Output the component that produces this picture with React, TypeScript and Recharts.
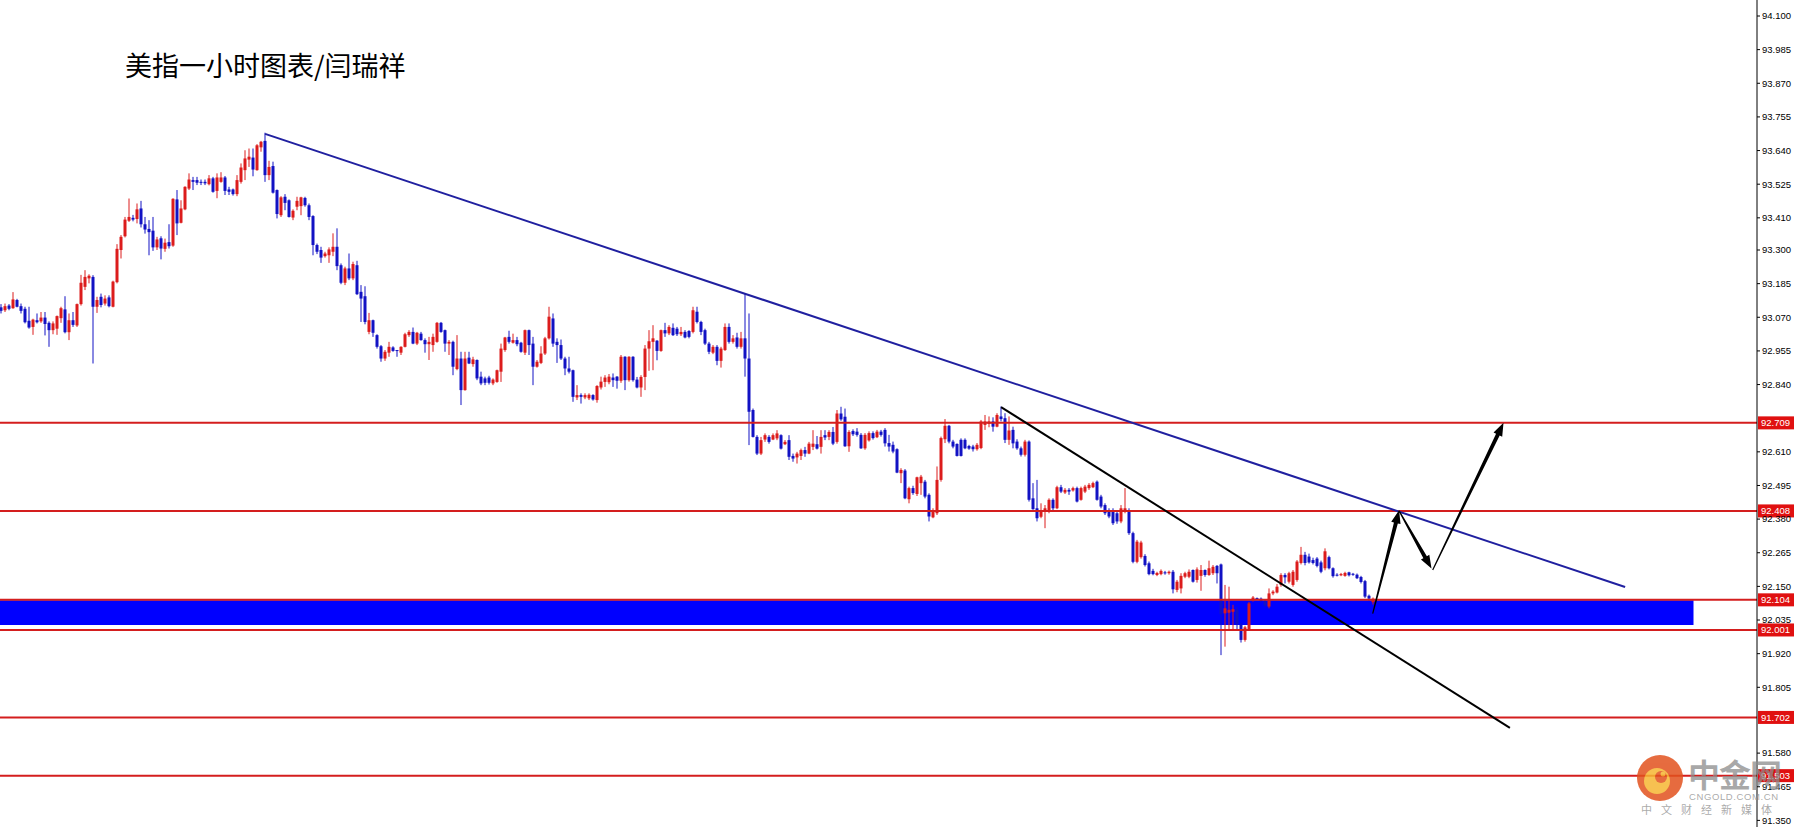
import React from 'react'
import { ComposedChart, Bar, XAxis, YAxis, ReferenceLine, ReferenceArea } from 'recharts'

// each candle: [open, high, low, close]
type Candle = [number, number, number, number]

const openingBars: Candle[] = [
  [93.104, 93.115, 93.083, 93.092], [93.094, 93.117, 93.088, 93.108], [93.110, 93.115, 93.094, 93.099],
  [93.101, 93.156, 93.099, 93.131], [93.129, 93.133, 93.104, 93.106], [93.108, 93.117, 93.083, 93.092],
  [93.099, 93.106, 93.049, 93.053], [93.058, 93.106, 93.031, 93.035], [93.037, 93.065, 93.010, 93.062],
  [93.060, 93.083, 93.049, 93.053], [93.056, 93.088, 93.051, 93.069], [93.069, 93.088, 93.008, 93.047],
  [93.051, 93.056, 92.969, 93.026], [93.026, 93.056, 93.012, 93.049], [93.031, 93.076, 93.010, 93.074],
  [93.067, 93.106, 93.051, 93.101], [93.097, 93.142, 93.015, 93.019], [93.019, 93.083, 92.992, 93.060],
  [93.060, 93.088, 93.037, 93.044], [93.042, 93.117, 93.037, 93.115], [93.115, 93.215, 93.110, 93.188],
]

const rallyBars: Candle[] = [
  [93.174, 93.231, 93.163, 93.208], [93.203, 93.217, 93.186, 93.212], [93.208, 93.214, 92.912, 93.106],
  [93.106, 93.140, 93.085, 93.129], [93.140, 93.151, 93.104, 93.112], [93.117, 93.145, 93.110, 93.134],
  [93.138, 93.145, 93.104, 93.108], [93.106, 93.195, 93.104, 93.192], [93.190, 93.320, 93.186, 93.304],
  [93.300, 93.351, 93.271, 93.345], [93.347, 93.413, 93.343, 93.404], [93.400, 93.476, 93.396, 93.413],
  [93.410, 93.420, 93.398, 93.404], [93.406, 93.459, 93.391, 93.439], [93.442, 93.468, 93.377, 93.388],
  [93.388, 93.413, 93.356, 93.370], [93.372, 93.402, 93.282, 93.361], [93.366, 93.413, 93.297, 93.309],
  [93.309, 93.345, 93.300, 93.336], [93.340, 93.347, 93.268, 93.305], [93.304, 93.339, 93.294, 93.325],
  [93.327, 93.388, 93.305, 93.313], [93.315, 93.477, 93.311, 93.475], [93.473, 93.505, 93.351, 93.391],
  [93.393, 93.470, 93.391, 93.442], [93.439, 93.518, 93.436, 93.516], [93.510, 93.562, 93.505, 93.541],
  [93.539, 93.550, 93.505, 93.533], [93.539, 93.550, 93.522, 93.530], [93.533, 93.541, 93.522, 93.530],
  [93.533, 93.541, 93.522, 93.528], [93.525, 93.556, 93.521, 93.545], [93.545, 93.550, 93.496, 93.499],
  [93.502, 93.562, 93.477, 93.548], [93.533, 93.566, 93.530, 93.548], [93.548, 93.553, 93.488, 93.502],
  [93.507, 93.516, 93.488, 93.499], [93.507, 93.510, 93.486, 93.491], [93.491, 93.556, 93.484, 93.539],
  [93.533, 93.596, 93.527, 93.582], [93.573, 93.641, 93.539, 93.613], [93.609, 93.647, 93.584, 93.619],
  [93.616, 93.647, 93.552, 93.575], [93.573, 93.662, 93.571, 93.658], [93.651, 93.673, 93.636, 93.670],
  [93.673, 93.701, 93.533, 93.556], [93.556, 93.605, 93.539, 93.584], [93.587, 93.602, 93.493, 93.496],
  [93.505, 93.507, 93.408, 93.423], [93.419, 93.484, 93.413, 93.480], [93.482, 93.491, 93.436, 93.461],
  [93.470, 93.473, 93.411, 93.413], [93.411, 93.439, 93.402, 93.434], [93.448, 93.482, 93.436, 93.468],
]

const slideBars: Candle[] = [
  [93.450, 93.482, 93.419, 93.480], [93.478, 93.482, 93.448, 93.453], [93.453, 93.459, 93.402, 93.413],
  [93.416, 93.419, 93.282, 93.317], [93.317, 93.322, 93.286, 93.294], [93.300, 93.311, 93.256, 93.274],
  [93.279, 93.294, 93.274, 93.288], [93.282, 93.309, 93.256, 93.302], [93.294, 93.357, 93.279, 93.311],
  [93.311, 93.374, 93.231, 93.245], [93.248, 93.254, 93.183, 93.188], [93.188, 93.243, 93.180, 93.237],
  [93.237, 93.288, 93.197, 93.203], [93.203, 93.260, 93.197, 93.252], [93.248, 93.263, 93.146, 93.149],
  [93.157, 93.180, 93.054, 93.134], [93.142, 93.176, 93.046, 93.054], [93.020, 93.085, 93.012, 93.060],
  [93.060, 93.062, 93.003, 93.017], [93.009, 93.012, 92.963, 92.969], [92.971, 92.975, 92.918, 92.929],
  [92.929, 92.958, 92.921, 92.952], [92.949, 92.986, 92.935, 92.969], [92.967, 92.971, 92.952, 92.955],
  [92.958, 92.958, 92.935, 92.955], [92.949, 92.971, 92.941, 92.969], [92.969, 93.017, 92.967, 93.012],
  [93.009, 93.026, 93.003, 93.020], [93.020, 93.035, 92.978, 92.980], [92.980, 93.020, 92.975, 93.017],
  [93.014, 93.020, 92.990, 92.992], [92.992, 92.998, 92.949, 92.978], [92.978, 93.003, 92.924, 92.986],
  [92.975, 93.014, 92.952, 93.003], [92.986, 93.054, 92.983, 93.051], [93.051, 93.054, 93.017, 93.020],
  [93.026, 93.028, 92.952, 92.980], [92.980, 92.992, 92.941, 92.986], [92.986, 92.990, 92.872, 92.901],
  [92.893, 93.009, 92.889, 92.929], [92.929, 92.952, 92.770, 92.821], [92.821, 92.952, 92.819, 92.929],
  [92.932, 92.952, 92.910, 92.912], [92.910, 92.935, 92.901, 92.926], [92.924, 92.926, 92.855, 92.861],
  [92.867, 92.884, 92.838, 92.844], [92.861, 92.867, 92.838, 92.846], [92.864, 92.870, 92.840, 92.846],
  [92.844, 92.861, 92.838, 92.857], [92.849, 92.891, 92.846, 92.889], [92.884, 92.980, 92.849, 92.963],
  [92.958, 93.003, 92.952, 93.001], [93.003, 93.024, 92.980, 92.986], [92.983, 93.014, 92.980, 92.992],
  [92.992, 93.003, 92.971, 92.978], [92.983, 92.986, 92.949, 92.952], [92.949, 93.028, 92.941, 93.026],
  [93.026, 93.028, 92.941, 92.975], [92.980, 93.003, 92.838, 92.901], [92.901, 92.924, 92.898, 92.918],
  [92.914, 92.971, 92.910, 92.946], [92.946, 93.003, 92.941, 92.998], [92.998, 93.106, 92.994, 93.072],
  [93.066, 93.083, 92.969, 92.980], [92.986, 92.998, 92.914, 92.975], [92.975, 92.994, 92.924, 92.929],
  [92.929, 92.935, 92.872, 92.895], [92.895, 92.935, 92.878, 92.884], [92.889, 92.891, 92.781, 92.798],
  [92.796, 92.838, 92.787, 92.804],
]

const baseBars: Candle[] = [
  [92.804, 92.810, 92.775, 92.798], [92.796, 92.810, 92.790, 92.804], [92.793, 92.810, 92.787, 92.805],
  [92.804, 92.807, 92.785, 92.789], [92.787, 92.838, 92.778, 92.835], [92.830, 92.867, 92.823, 92.850],
  [92.849, 92.872, 92.832, 92.864], [92.848, 92.876, 92.841, 92.867], [92.864, 92.878, 92.832, 92.855],
  [92.867, 92.869, 92.826, 92.853], [92.853, 92.941, 92.846, 92.935], [92.935, 92.937, 92.821, 92.855],
  [92.855, 92.937, 92.850, 92.935], [92.935, 92.937, 92.850, 92.855], [92.857, 92.866, 92.827, 92.830],
  [92.830, 92.872, 92.798, 92.866], [92.866, 92.975, 92.821, 92.963], [92.963, 93.026, 92.887, 92.988],
  [92.986, 93.043, 92.889, 92.998], [92.990, 92.992, 92.923, 92.955], [92.955, 93.028, 92.952, 93.026],
  [93.026, 93.051, 93.003, 93.015], [93.015, 93.043, 93.009, 93.037], [93.034, 93.049, 93.006, 93.009],
  [93.031, 93.037, 93.006, 93.012], [93.012, 93.037, 93.006, 93.020], [93.020, 93.026, 92.998, 93.001],
  [93.023, 93.026, 92.998, 93.003], [93.020, 93.106, 93.015, 93.094], [93.089, 93.106, 93.049, 93.054],
  [93.054, 93.058, 93.009, 93.020], [93.026, 93.031, 92.975, 92.980], [92.980, 92.986, 92.944, 92.952],
  [92.949, 92.975, 92.944, 92.969], [92.969, 92.975, 92.906, 92.921], [92.921, 92.969, 92.898, 92.963],
  [92.958, 93.049, 92.955, 93.037], [93.037, 93.049, 92.980, 92.986], [92.986, 93.009, 92.980, 92.998],
  [93.001, 93.017, 92.963, 92.969], [92.969, 93.020, 92.963, 92.998], [92.998, 93.151, 92.867, 92.929],
  [92.929, 93.083, 92.633, 92.747], [92.753, 92.758, 92.659, 92.661], [92.661, 92.667, 92.599, 92.604],
  [92.604, 92.661, 92.599, 92.650], [92.652, 92.673, 92.644, 92.667], [92.661, 92.667, 92.638, 92.644],
  [92.652, 92.673, 92.650, 92.667], [92.656, 92.684, 92.650, 92.673], [92.667, 92.670, 92.618, 92.621],
  [92.636, 92.650, 92.633, 92.644], [92.650, 92.667, 92.582, 92.593], [92.596, 92.604, 92.576, 92.587],
  [92.591, 92.610, 92.570, 92.604], [92.596, 92.621, 92.582, 92.616], [92.616, 92.627, 92.593, 92.604],
  [92.604, 92.644, 92.602, 92.638], [92.627, 92.684, 92.616, 92.638], [92.636, 92.664, 92.618, 92.621],
  [92.627, 92.684, 92.604, 92.661], [92.667, 92.684, 92.650, 92.659], [92.661, 92.684, 92.650, 92.678],
  [92.678, 92.695, 92.633, 92.638], [92.644, 92.753, 92.638, 92.741], [92.741, 92.764, 92.716, 92.721],
  [92.730, 92.758, 92.627, 92.629], [92.629, 92.684, 92.610, 92.678], [92.681, 92.687, 92.664, 92.670],
]

const breakdownBars: Candle[] = [
  [92.679, 92.691, 92.662, 92.668], [92.668, 92.674, 92.620, 92.622], [92.622, 92.674, 92.617, 92.668],
  [92.649, 92.680, 92.645, 92.674], [92.674, 92.680, 92.652, 92.657], [92.660, 92.685, 92.657, 92.679],
  [92.679, 92.685, 92.662, 92.668], [92.685, 92.691, 92.628, 92.639], [92.640, 92.668, 92.611, 92.628],
  [92.634, 92.645, 92.605, 92.611], [92.619, 92.622, 92.537, 92.539], [92.537, 92.554, 92.503, 92.548],
  [92.546, 92.551, 92.448, 92.451], [92.448, 92.491, 92.434, 92.486], [92.486, 92.494, 92.463, 92.469],
  [92.466, 92.525, 92.459, 92.523], [92.503, 92.531, 92.463, 92.525], [92.508, 92.514, 92.451, 92.457],
  [92.463, 92.468, 92.372, 92.389], [92.386, 92.417, 92.383, 92.406], [92.400, 92.560, 92.394, 92.514],
  [92.514, 92.662, 92.508, 92.657], [92.653, 92.722, 92.640, 92.699], [92.699, 92.702, 92.639, 92.645],
  [92.645, 92.651, 92.622, 92.628], [92.637, 92.639, 92.594, 92.596], [92.651, 92.656, 92.594, 92.596],
  [92.651, 92.656, 92.619, 92.622], [92.630, 92.634, 92.617, 92.621], [92.628, 92.634, 92.611, 92.619],
  [92.619, 92.640, 92.614, 92.634], [92.623, 92.719, 92.619, 92.714], [92.702, 92.736, 92.685, 92.714],
  [92.706, 92.731, 92.694, 92.714], [92.714, 92.728, 92.679, 92.696], [92.696, 92.742, 92.694, 92.736],
  [92.731, 92.765, 92.714, 92.722], [92.725, 92.742, 92.640, 92.651], [92.651, 92.731, 92.634, 92.683],
  [92.685, 92.696, 92.622, 92.639], [92.645, 92.653, 92.617, 92.622], [92.622, 92.628, 92.594, 92.600],
  [92.600, 92.651, 92.594, 92.645], [92.645, 92.649, 92.440, 92.446], [92.451, 92.503, 92.412, 92.414],
  [92.417, 92.514, 92.372, 92.383], [92.388, 92.434, 92.383, 92.411], [92.406, 92.428, 92.349, 92.417],
  [92.411, 92.451, 92.400, 92.446], [92.446, 92.451, 92.411, 92.417], [92.417, 92.494, 92.414, 92.489],
  [92.489, 92.497, 92.469, 92.474], [92.471, 92.486, 92.466, 92.480], [92.480, 92.486, 92.463, 92.474],
  [92.478, 92.491, 92.474, 92.486], [92.486, 92.491, 92.437, 92.440], [92.446, 92.491, 92.443, 92.486],
  [92.474, 92.497, 92.469, 92.491], [92.486, 92.503, 92.480, 92.497], [92.489, 92.508, 92.486, 92.503],
  [92.508, 92.512, 92.443, 92.446], [92.457, 92.463, 92.417, 92.423], [92.428, 92.434, 92.394, 92.400],
  [92.411, 92.417, 92.383, 92.389], [92.406, 92.417, 92.360, 92.366], [92.400, 92.406, 92.364, 92.372],
  [92.372, 92.428, 92.366, 92.417], [92.406, 92.486, 92.400, 92.417], [92.411, 92.417, 92.326, 92.332],
  [92.332, 92.337, 92.229, 92.234],
]

const lowBars: Candle[] = [
  [92.234, 92.309, 92.229, 92.303], [92.250, 92.306, 92.245, 92.300], [92.254, 92.260, 92.218, 92.223],
  [92.229, 92.235, 92.188, 92.192], [92.203, 92.210, 92.188, 92.192], [92.189, 92.200, 92.185, 92.196],
  [92.192, 92.208, 92.188, 92.203], [92.198, 92.203, 92.190, 92.195], [92.195, 92.204, 92.190, 92.200],
  [92.200, 92.206, 92.126, 92.140], [92.138, 92.172, 92.130, 92.166], [92.143, 92.195, 92.126, 92.186],
  [92.183, 92.200, 92.178, 92.195], [92.183, 92.208, 92.178, 92.200], [92.206, 92.208, 92.163, 92.166],
  [92.172, 92.215, 92.163, 92.208], [92.186, 92.223, 92.135, 92.206], [92.206, 92.208, 92.183, 92.189],
  [92.189, 92.238, 92.186, 92.212], [92.195, 92.223, 92.189, 92.217], [92.220, 92.223, 92.160, 92.195],
  [92.225, 92.228, 91.915, 92.055], [92.058, 92.155, 91.944, 92.075], [92.060, 92.149, 92.001, 92.070],
  [92.063, 92.087, 92.001, 92.072], [92.070, 92.080, 92.000, 92.020], [92.018, 92.024, 91.958, 91.967],
  [91.967, 92.015, 91.961, 92.010], [92.003, 92.097, 92.000, 92.092], [92.103, 92.117, 92.098, 92.112],
  [92.110, 92.112, 92.105, 92.108], [92.108, 92.112, 92.095, 92.100], [92.100, 92.105, 92.080, 92.085],
  [92.081, 92.143, 92.075, 92.126], [92.126, 92.137, 92.120, 92.132], [92.129, 92.158, 92.126, 92.149],
  [92.155, 92.195, 92.149, 92.189], [92.189, 92.195, 92.160, 92.181], [92.166, 92.200, 92.160, 92.195],
  [92.155, 92.206, 92.149, 92.200], [92.172, 92.240, 92.166, 92.235], [92.230, 92.285, 92.225, 92.258],
  [92.258, 92.268, 92.222, 92.230], [92.252, 92.262, 92.228, 92.232], [92.240, 92.248, 92.225, 92.230],
  [92.245, 92.250, 92.215, 92.220], [92.232, 92.238, 92.195, 92.200], [92.212, 92.280, 92.205, 92.270],
  [92.250, 92.255, 92.208, 92.212], [92.212, 92.215, 92.180, 92.185], [92.190, 92.195, 92.184, 92.188],
  [92.188, 92.196, 92.185, 92.192], [92.186, 92.200, 92.183, 92.196], [92.198, 92.200, 92.184, 92.188],
  [92.193, 92.196, 92.186, 92.190], [92.190, 92.194, 92.175, 92.178], [92.182, 92.186, 92.160, 92.165],
  [92.168, 92.172, 92.110, 92.115], [92.118, 92.122, 92.100, 92.108], [92.096, 92.112, 92.088, 92.108],
]

const levels = [92.709, 92.408, 92.104, 92.001, 91.702, 91.503]
const zone = [92.018, 92.103]
const priceTicks = [
  94.1, 93.985, 93.87, 93.755, 93.64, 93.525, 93.41, 93.3, 93.185, 93.07, 92.955, 92.84,
  92.61, 92.495, 92.38, 92.265, 92.15, 92.035, 91.92, 91.805, 91.58, 91.465, 91.35,
]

// trend lines and the projected path, as [bar index, price]
const blueTrend = [{ x: 65.9, y: 93.697 }, { x: 405.9, y: 92.148 }]
const blackTrend = [{ x: 249.9, y: 92.763 }, { x: 377.1, y: 91.666 }]
const arrowLegs = [
  [{ x: 342.8, y: 92.057 }, { x: 349.4, y: 92.41 }],
  [{ x: 349.4, y: 92.408 }, { x: 357.5, y: 92.211 }],
  [{ x: 357.8, y: 92.206 }, { x: 375.5, y: 92.709 }],
]

const candles = [...openingBars, ...rallyBars, ...slideBars, ...baseBars, ...breakdownBars, ...lowBars].map(
  ([o, h, l, c], i) => ({ i, o, h, l, c })
)

const W = 1794
const H = 827
const UP = '#dc1c1c'
const DOWN = '#1212c4'
const LEVEL = '#d41e1e'
const AXIS_FONT = '"Liberation Sans", Arial, sans-serif'

const CandleShape = (props: any) => {
  let { x, y, width, height } = props
  const p = props.payload
  if (!p) return null
  if (height < 0) {
    y += height
    height = -height
  }
  const color = p.c >= p.o ? UP : DOWN
  const k = p.h > p.l ? height / (p.h - p.l) : 0
  const top = y + (p.h - Math.max(p.o, p.c)) * k
  const bot = y + (p.h - Math.min(p.o, p.c)) * k
  const cx = x + width / 2
  return (
    <g>
      <line x1={cx} x2={cx} y1={y} y2={y + Math.max(height, 1)} stroke={color} strokeWidth={1} />
      <rect x={x} y={top} width={width} height={Math.max(1, bot - top)} fill={color} />
    </g>
  )
}

const ArrowShape = (props: any) => {
  const { x1, y1, x2, y2 } = props
  const dx = x2 - x1
  const dy = y2 - y1
  const len = Math.hypot(dx, dy) || 1
  const ux = dx / len
  const uy = dy / len
  const nx = -uy
  const ny = ux
  const head = 13
  const hw = 4.8
  const s0 = 0.6
  const s1 = 2
  const bx = x2 - ux * head
  const by = y2 - uy * head
  const pts = [
    [x1 + nx * s0, y1 + ny * s0],
    [bx + nx * s1, by + ny * s1],
    [bx + nx * hw, by + ny * hw],
    [x2, y2],
    [bx - nx * hw, by - ny * hw],
    [bx - nx * s1, by - ny * s1],
    [x1 - nx * s0, y1 - ny * s0],
  ]
  return <polygon points={pts.map((q) => q.join(',')).join(' ')} fill="#000" />
}

const LevelTag = (props: any) => {
  const vb = props.viewBox
  if (!vb) return null
  const x = vb.x + vb.width + 1
  const y = vb.y
  return (
    <g>
      <rect x={x} y={y - 6.5} width={36} height={13} fill="#e01010" />
      <text x={x + 3} y={y} dominantBaseline="central" fill="#fff" fontSize={9.5} fontFamily={AXIS_FONT}>
        {props.value}
      </text>
    </g>
  )
}

export default function App() {
  return (
    <div style={{ position: 'absolute', left: 0, top: 0, width: W, height: H, background: '#fff', overflow: 'hidden' }}>
      <ComposedChart width={W} height={H} data={candles} margin={{ top: 0, right: 0, bottom: 0, left: 0 }}>
        <XAxis dataKey="i" type="number" domain={[-0.375, 438.875]} allowDataOverflow hide />
        <YAxis
          orientation="right"
          width={37}
          type="number"
          domain={[91.3274, 94.1547]}
          allowDataOverflow
          ticks={priceTicks}
          interval={0}
          tickFormatter={(v: number) => v.toFixed(3)}
          tick={{ fill: '#000', fontSize: 9.5, fontFamily: AXIS_FONT }}
          tickSize={3}
          tickMargin={2}
          axisLine={{ stroke: '#000' }}
          tickLine={{ stroke: '#000' }}
        />
        <ReferenceArea x1={-0.375} x2={423} y1={zone[0]} y2={zone[1]} fill="#0000ff" fillOpacity={1} stroke="none" />
        {levels.map((v) => (
          <ReferenceLine
            key={v}
            y={v}
            stroke={LEVEL}
            strokeWidth={2}
            label={(p: any) => <LevelTag viewBox={p.viewBox} value={v.toFixed(3)} />}
          />
        ))}
        <Bar dataKey={(d: any) => [d.l, d.h]} barSize={3} shape={CandleShape} isAnimationActive={false} />
        <ReferenceLine segment={blueTrend} stroke="#2020a0" strokeWidth={2} />
        <ReferenceLine segment={blackTrend} stroke="#000" strokeWidth={2} />
        {arrowLegs.map((seg, k) => (
          <ReferenceLine key={k} segment={seg} shape={ArrowShape} />
        ))}
      </ComposedChart>
      <div
        style={{
          position: 'absolute',
          left: 125,
          top: 51,
          fontSize: 27,
          lineHeight: '27px',
          fontFamily: '"Noto Sans CJK SC", sans-serif',
          color: '#000',
          whiteSpace: 'nowrap',
        }}
      >
        美指一小时图表/闫瑞祥
      </div>
      <svg width={W} height={H} style={{ position: 'absolute', left: 0, top: 0, pointerEvents: 'none' }}>
        <g opacity={0.85}>
          <circle cx={1660} cy={778} r={23} fill="#e2521e" />
          <circle cx={1657} cy={781} r={13} fill="#f6b733" />
          <circle cx={1661} cy={777} r={6} fill="#e2521e" />
          <circle cx={1663} cy={774} r={2.5} fill="#f6b733" />
        </g>
        <text x={1688} y={787} fontSize={32} fontWeight="bold" fill="#8c8c8c" fillOpacity={0.75}
          fontFamily='"Noto Sans CJK SC", sans-serif' letterSpacing={-1}>
          中金网
        </text>
        <text x={1689} y={800} fontSize={9.5} fill="#9a9a9a" fillOpacity={0.85} fontFamily={AXIS_FONT} letterSpacing={0.6}>
          CNGOLD.COM.CN
        </text>
        <text x={1641} y={814} fontSize={11} fill="#9a9a9a" fillOpacity={0.85}
          fontFamily='"Noto Sans CJK SC", sans-serif' letterSpacing={9}>
          中文财经新媒体
        </text>
      </svg>
    </div>
  )
}
